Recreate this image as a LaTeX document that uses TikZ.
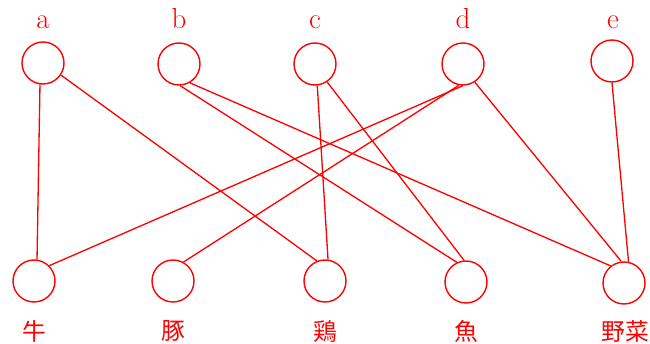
\documentclass[tikz,border=0pt]{standalone}
\usepackage{fontspec}
\newfontfamily\cjk{Noto Sans CJK JP}
\usepackage{tikz}

\begin{document}
\begin{tikzpicture}[x=0.02cm,y=-0.02cm,
    vert/.style={circle,draw=red,line width=0.8pt,minimum size=0.84cm,inner sep=0pt},
    tag/.style={text=red,anchor=base,font=\fontsize{16.5}{18}\selectfont},
    food/.style={text=red,font=\cjk\fontsize{13.5}{16}\selectfont},
    edge/.style={red,line width=0.75pt}]
  \useasboundingbox (0,0) rectangle (650,344);
  % top row
  \node[vert] (a) at (43,63) {};
  \node[vert] (b) at (179,64) {};
  \node[vert] (c) at (315,64) {};
  \node[vert] (d) at (463,64) {};
  \node[vert] (e) at (612,61) {};
  \node[tag] (la) at (43,29) {a};
  \node[tag] (lb) at (179,29) {b};
  \node[tag] (lc) at (315,29) {c};
  \node[tag] (ld) at (463,29) {d};
  \node[tag] (le) at (613,29) {e};
  % bottom row
  \node[vert] (ushi) at (34,281) {};
  \node[vert] (buta) at (173,281) {};
  \node[vert] (tori) at (325,281) {};
  \node[vert] (sakana) at (466,282) {};
  \node[vert] (yasai) at (624,283) {};
  \node[food] (lushi) at (34,331) {牛};
  \node[food] (lbuta) at (173,331) {豚};
  \node[food] (ltori) at (325,331) {鶏};
  \node[food] (lsakana) at (466,331) {魚};
  \node[food] (lyasai) at (625,331) {野菜};
  % edges
  \draw[edge] (a.-98) -- (ushi.82);
  \draw[edge] (a.-34) -- (tori.112);
  \draw[edge] (b.-87) -- (sakana.115);
  \draw[edge] (b.-60) -- (yasai.128);
  \draw[edge] (c.-84) -- (tori.82);
  \draw[edge] (c.-56) -- (sakana.95);
  \draw[edge] (d.-90) -- (ushi.45);
  \draw[edge] (d.-101) -- (buta.61);
  \draw[edge] (d.-57) -- (yasai.97);
  \draw[edge] (e.-90) -- (yasai.78);
\end{tikzpicture}
\end{document}
